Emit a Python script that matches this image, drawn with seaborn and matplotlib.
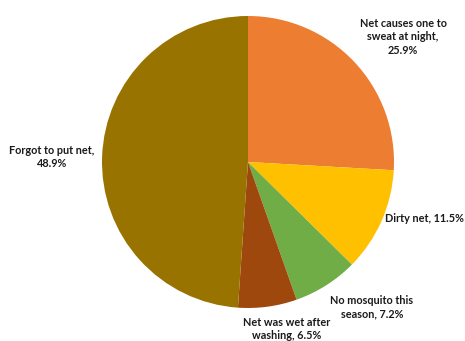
import matplotlib
matplotlib.use("Agg")
import matplotlib.pyplot as plt
import seaborn as sns

# Data
categories = ["Net causes one to\nsweat at night,", "Dirty net,", "No mosquito this\nseason,",
              "Net was wet after\nwashing,", "Forgot to put net,"]
shares = [25.9, 11.5, 7.2, 6.5, 48.9]
colors = ["#ED7D31", "#FFC000", "#70AD47", "#9E480E", "#997300"]
# separator between category and value in each label
separators = ["\n", " ", " ", " ", "\n"]

sns.set_theme(style="white")
plt.rcParams['font.family'] = ['Lato', 'DejaVu Sans']

fig = plt.figure(figsize=(4.65, 3.41), dpi=100)
ax = fig.add_axes([0, 0, 1, 1])
ax.pie(shares, colors=sns.color_palette(colors), startangle=90, counterclock=False,
       center=(248, 179), radius=146, wedgeprops=dict(linewidth=0))
ax.set_xlim(0, 465)
ax.set_ylim(0, 341)
ax.set_aspect("equal")
ax.axis("off")

# label positions (pixel coords, y from bottom)
label_pos = [(403, 304), (424, 122), (372, 34), (287, 12), (52, 184)]
for (x, y), c, sep, v in zip(label_pos, categories, separators, shares):
    ax.text(x, y, f"{c}{sep}{v}%", ha="center", va="center", fontsize=7.8,
            fontweight="bold", color="#1a1a1a", linespacing=1.3)

fig.savefig("out.png", dpi=100)
